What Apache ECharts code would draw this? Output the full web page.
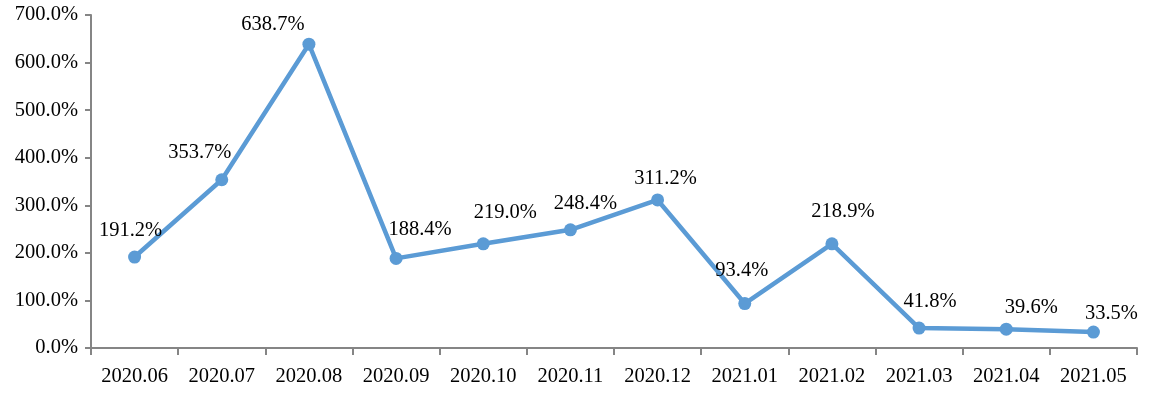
<!DOCTYPE html>
<html><head><meta charset="utf-8">
<script src="https://cdn.jsdelivr.net/npm/echarts@6/dist/echarts.min.js"></script>
<style>html,body{margin:0;padding:0;background:#fff}#c{width:1158px;height:396px}</style>
</head><body><div id="c"></div>
<script>
const categories = ['2020.06','2020.07','2020.08','2020.09','2020.10','2020.11','2020.12','2021.01','2021.02','2021.03','2021.04','2021.05'];
const values = [191.2, 353.7, 638.7, 188.4, 219.0, 248.4, 311.2, 93.4, 218.9, 41.8, 39.6, 33.5];
const labelOffsets = [[-4,-4],[-22,-5],[-36,2],[24,-7],[22,-9],[15,-4],[8,1],[-3,-11],[11,-10],[11,-5],[25,0],[18,4]];
const font = '"Liberation Serif", "DejaVu Serif", serif';
const chart = echarts.init(document.getElementById('c'));
chart.setOption({
  animation: false,
  grid: {left: 91, right: 21, top: 15, bottom: 48},
  xAxis: {
    type: 'category', data: categories, boundaryGap: true,
    axisLine: {lineStyle: {color: '#858585', width: 2}},
    axisTick: {show: true, alignWithLabel: false, length: 7, lineStyle: {color: '#858585', width: 2}},
    axisLabel: {color: '#000', fontFamily: font, fontSize: 20.5, margin: 18, interval: 0}
  },
  yAxis: {
    type: 'value', min: 0, max: 700, interval: 100,
    splitLine: {show: false},
    axisLine: {show: true, lineStyle: {color: '#858585', width: 2}},
    axisTick: {show: true, length: 6, lineStyle: {color: '#858585', width: 2}},
    axisLabel: {color: '#000', fontFamily: font, fontSize: 20.5, margin: 13, padding: [4, 0, 0, 0],
      formatter: v => v.toFixed(1) + '%'}
  },
  series: [{
    type: 'line',
    data: values.map((v, i) => ({value: v, label: {offset: labelOffsets[i]}})),
    symbol: 'circle', symbolSize: 13,
    lineStyle: {color: '#5b9bd5', width: 4.5},
    itemStyle: {color: '#5b9bd5'},
    label: {show: true, position: 'top', distance: 5, color: '#000', fontFamily: font, fontSize: 20.5,
      formatter: p => p.value.toFixed(1) + '%'}
  }]
});
</script></body></html>
